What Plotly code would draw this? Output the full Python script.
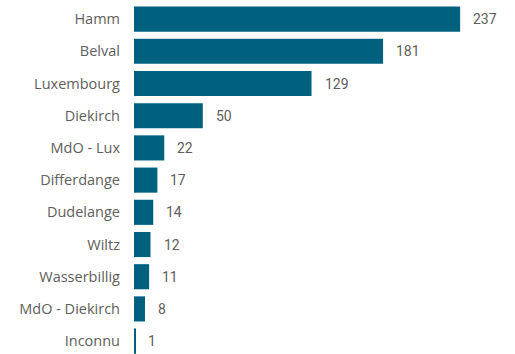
import plotly.graph_objects as go

categories = ["Hamm", "Belval", "Luxembourg", "Diekirch", "MdO - Lux", "Differdange",
              "Dudelange", "Wiltz", "Wasserbillig", "MdO - Diekirch", "Inconnu"]
values = [237, 181, 129, 50, 22, 17, 14, 12, 11, 8, 1]

bar_color = "#00617F"
text_color = "#605E5C"

fig = go.Figure()
fig.add_trace(go.Bar(
    x=values, y=categories, orientation="h",
    marker=dict(color=bar_color, line=dict(width=0)),
    width=0.78, hoverinfo="x+y",
))

for c, v in zip(categories, values):
    fig.add_annotation(x=v, y=c, text=str(v), showarrow=False, xanchor="left",
                       xshift=11, font=dict(family="Roboto, Open Sans, sans-serif", size=14, color=text_color))

fig.update_layout(
    width=515, height=354,
    margin=dict(l=134, r=10, t=3, b=0),
    paper_bgcolor="white", plot_bgcolor="white",
    showlegend=False,
    font=dict(family="Open Sans, Noto Sans, sans-serif", size=14, color=text_color),
)
fig.update_xaxes(range=[0, 269.6], visible=False, showgrid=False, zeroline=False)
fig.update_yaxes(type="category", categoryorder="array", categoryarray=categories,
                 range=[10.4, -0.5], autorange=False, ticks="", ticklabelstandoff=13,
                 showgrid=False, zeroline=False, showline=False,
                 tickfont=dict(family="Open Sans, Noto Sans, sans-serif", size=14.5, color=text_color))

fig.write_html("out.html")
